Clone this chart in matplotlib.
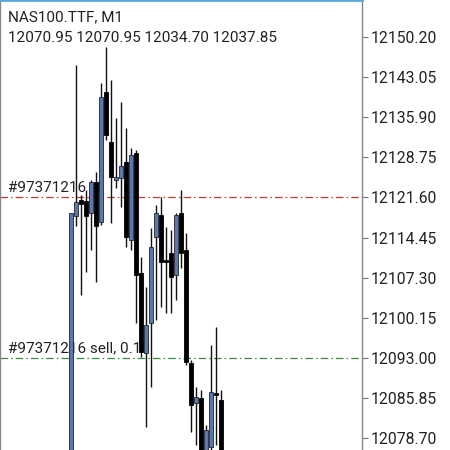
import matplotlib
matplotlib.use("Agg")
import matplotlib.pyplot as plt
import numpy as np

plt.rcParams['font.family'] = ['Roboto', 'DejaVu Sans']

symbol = "NAS100.TTF, M1"
last_ohlc = "12070.95 12070.95 12034.70 12037.85"

# one-minute candles, oldest first
opens = [12056.95, 12118.29, 12121.14, 12120.96, 12118.82, 12124.35, 12117.22, 12140.40,
         12131.48, 12124.71, 12125.06, 12127.92, 12114.01, 12129.52, 12108.12, 12093.86,
         12099.21, 12114.54, 12118.47, 12110.44, 12111.69, 12107.77, 12118.82, 12112.22,
         12092.08, 12084.95, 12085.84, 12075.67, 12077.10, 12086.73, 12085.48]
highs = [12118.82, 12145.21, 12122.03, 12122.92, 12124.71, 12126.13, 12142.00, 12148.42,
         12142.54, 12135.76, 12138.61, 12133.98, 12130.41, 12130.05, 12110.98, 12105.63,
         12116.15, 12120.25, 12121.67, 12116.33, 12115.79, 12118.82, 12122.92, 12115.26,
         12092.61, 12087.80, 12087.26, 12081.02, 12095.29, 12098.50, 12087.26]
lows = [12053.39, 12116.50, 12104.20, 12108.30, 12112.22, 12106.52, 12116.68, 12131.84,
        12117.04, 12123.28, 12119.89, 12112.76, 12112.22, 12099.21, 12093.15, 12080.67,
        12087.80, 12099.74, 12102.06, 12100.99, 12100.99, 12103.31, 12109.02, 12091.72,
        12079.77, 12077.46, 12074.78, 12074.78, 12076.00, 12077.46, 12074.78]
closes = [12118.82, 12120.78, 12120.43, 12118.29, 12124.35, 12116.50, 12139.50, 12132.73,
          12125.24, 12125.24, 12127.20, 12114.54, 12129.16, 12107.77, 12094.04, 12098.85,
          12112.76, 12118.82, 12110.09, 12110.09, 12107.41, 12118.47, 12111.69, 12092.26,
          12084.59, 12086.01, 12075.67, 12080.13, 12086.91, 12086.37, 12075.67]

price_ticks = [12150.20, 12143.05, 12135.90, 12128.75, 12121.60, 12114.45,
               12107.30, 12100.15, 12093.00, 12085.85, 12078.70]

order_levels = [12121.60, 12093.00]
order_labels = ["#97371216 sl", "#97371216 sell, 0.10"]
order_colors = ["#c0392f", "#3c8a3c"]

bull_color = "#5a79aa"
bear_color = "#000000"

fig = plt.figure(figsize=(4.5, 4.5), dpi=100)
ax = fig.add_axes([0, 0, 362 / 450, 1])

x = np.arange(len(opens))
o = np.array(opens)
c = np.array(closes)
up = c > o

ax.vlines(x, lows, highs, color="#111111", linewidth=1.0, zorder=3)
ax.bar(x[up], (c - o)[up], bottom=o[up], width=0.7, color=bull_color,
       edgecolor="#1c2535", linewidth=0.6, zorder=4)
ax.bar(x[~up], (o - c)[~up], bottom=c[~up], width=0.7, color=bear_color,
       edgecolor=bear_color, linewidth=0.6, zorder=4)

for lvl, lab, col in zip(order_levels, order_labels, order_colors):
    ax.axhline(lvl, color=col, linewidth=0.9, linestyle=(0, (6, 2.5, 1.2, 2.5)), zorder=2)
    ax.annotate(lab, xy=(8 / 362, lvl), xycoords=ax.get_yaxis_transform(),
                xytext=(0, 2), textcoords="offset points", va="bottom", ha="left",
                fontsize=11, color="#222222", zorder=1)

ax.set_xlim(-14.2, 58.2)
ax.set_ylim(12076.56, 12156.80)

ax.yaxis.tick_right()
ax.set_yticks(price_ticks)
ax.set_yticklabels(["%.2f" % v for v in price_ticks])
ax.tick_params(axis="y", direction="out", length=4, width=0.8, color="#777777",
               labelsize=11.3, labelcolor="#222222", pad=2)
ax.set_xticks([])

for side in ["left", "right"]:
    ax.spines[side].set_color("#888888")
    ax.spines[side].set_linewidth(1.0)
ax.spines["top"].set_color("#5aa7dc")
ax.spines["top"].set_linewidth(2.0)
ax.spines["bottom"].set_visible(False)

ax.text(8 / 362, 1 - 17 / 450, symbol, transform=ax.transAxes, va="center",
        ha="left", fontsize=11, color="#222222")
ax.text(8 / 362, 1 - 38 / 450, last_ohlc, transform=ax.transAxes, va="center",
        ha="left", fontsize=11, color="#222222")

fig.savefig("out.png", dpi=100, facecolor="white")
